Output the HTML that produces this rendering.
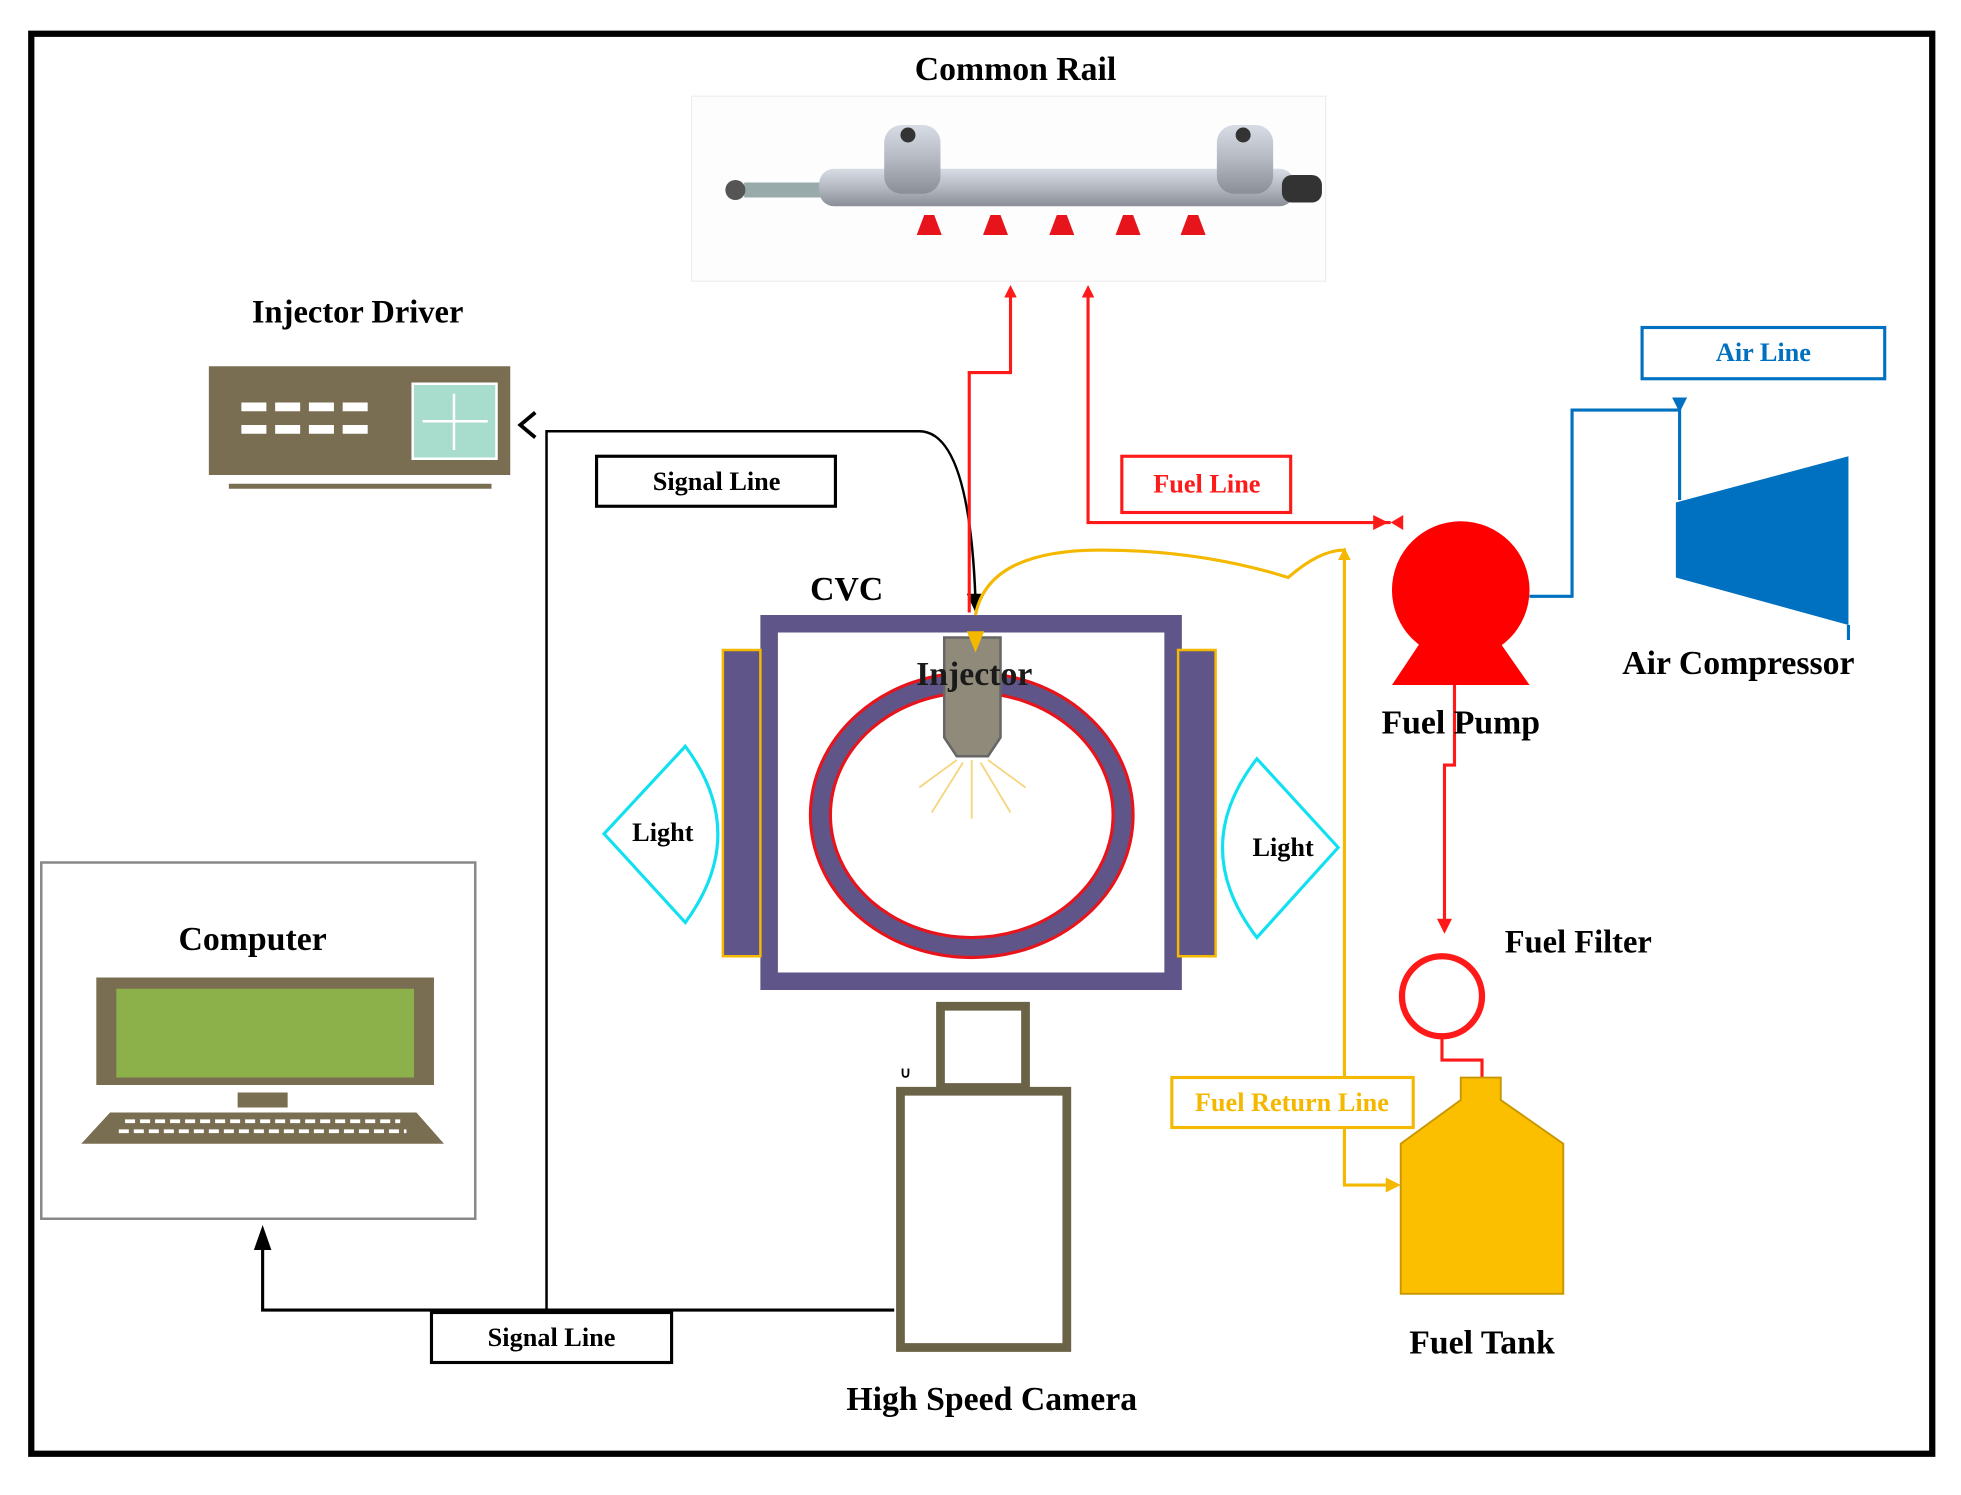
<!DOCTYPE html>
<html><head><meta charset="utf-8"><style>
html,body{margin:0;padding:0;background:#fff;}
svg{display:block;}
text{font-family:"Liberation Serif",serif;font-weight:bold;}
</style></head><body>
<svg width="1961" height="1495" viewBox="0 0 1568 1196" preserveAspectRatio="none" xmlns="http://www.w3.org/2000/svg">
<defs>
<linearGradient id="rail" x1="0" y1="0" x2="0" y2="1">
<stop offset="0" stop-color="#d8dce4"/><stop offset="0.5" stop-color="#b4b8c0"/><stop offset="1" stop-color="#8a8e96"/>
</linearGradient>
</defs>
<rect x="25" y="27" width="1520" height="1136" fill="#fff" stroke="#000" stroke-width="5"/>

<!-- Common Rail -->
<text x="812" y="64" font-size="27" text-anchor="middle">Common Rail</text>
<rect x="553" y="77" width="507" height="148" fill="#fdfdfd" stroke="#eee"/>
<rect x="595" y="146" width="70" height="12" fill="#9aa" />
<circle cx="588" cy="152" r="8" fill="#555"/>
<rect x="655" y="135" width="380" height="30" rx="12" fill="url(#rail)"/>
<rect x="707" y="100" width="45" height="55" rx="14" fill="url(#rail)"/>
<circle cx="726" cy="108" r="6" fill="#333"/>
<rect x="973" y="100" width="45" height="55" rx="14" fill="url(#rail)"/>
<circle cx="994" cy="108" r="6" fill="#333"/>
<rect x="1025" y="140" width="32" height="22" rx="8" fill="#333"/>
<g fill="#e8141c">
<path d="M733 188 L739 172 L747 172 L753 188Z"/><path d="M786 188 L792 172 L800 172 L806 188Z"/>
<path d="M839 188 L845 172 L853 172 L859 188Z"/><path d="M892 188 L898 172 L906 172 L912 188Z"/>
<path d="M944 188 L950 172 L958 172 L964 188Z"/>
</g>

<!-- Injector Driver -->
<text x="286" y="258" font-size="26" text-anchor="middle">Injector Driver</text>
<rect x="167" y="293" width="241" height="87" fill="#7a6e52"/>
<g fill="#fff">
<rect x="193" y="322" width="20" height="7"/><rect x="220" y="322" width="20" height="7"/><rect x="247" y="322" width="20" height="7"/><rect x="274" y="322" width="20" height="7"/>
<rect x="193" y="340" width="20" height="7"/><rect x="220" y="340" width="20" height="7"/><rect x="247" y="340" width="20" height="7"/><rect x="274" y="340" width="20" height="7"/>
</g>
<rect x="330" y="307" width="67" height="60" fill="#a8dccc" stroke="#fff" stroke-width="2"/>
<path d="M363 315 V360 M338 337 H390" stroke="#fff" stroke-width="2"/>
<rect x="183" y="387" width="210" height="4" fill="#7a6e52"/>

<!-- signal lines black -->
<rect x="477" y="365" width="191" height="40" fill="#fff" stroke="#000" stroke-width="2.5"/>
<text x="573" y="392" font-size="21" text-anchor="middle">Signal Line</text>
<path d="M437 1048 V345 H735 Q775 345 780 480" fill="none" stroke="#000" stroke-width="2"/>
<path d="M773 475 L780 490 L787 475Z" fill="#000"/>
<path d="M428 330 L416 340 L428 350" fill="none" stroke="#000" stroke-width="3"/>
<path d="M715 1048 H210 V990" fill="none" stroke="#000" stroke-width="2.5"/>
<path d="M203 1000 L210 980 L217 1000Z" fill="#000"/>
<rect x="345" y="1050" width="192" height="40" fill="#fff" stroke="#000" stroke-width="2.5"/>
<text x="441" y="1077" font-size="21" text-anchor="middle">Signal Line</text>

<!-- Computer -->
<rect x="33" y="690" width="347" height="285" fill="#fff" stroke="#888" stroke-width="2"/>
<text x="202" y="760" font-size="27" text-anchor="middle">Computer</text>
<rect x="77" y="782" width="270" height="86" fill="#7a6e52"/>
<rect x="93" y="791" width="238" height="71" fill="#8cb04a"/>
<rect x="190" y="874" width="40" height="12" fill="#7a6e52"/>
<path d="M88 890 H333 L355 915 H65Z" fill="#7a6e52"/>
<g stroke="#fff" stroke-width="3" stroke-dasharray="8 4"><path d="M100 897 H320"/><path d="M95 905 H325"/></g>

<!-- CVC -->
<text x="677" y="480" font-size="27" text-anchor="middle">CVC</text>
<rect x="615" y="499" width="323" height="286" fill="#fff" stroke="#5f5588" stroke-width="14"/>
<rect x="578" y="520" width="30" height="245" fill="#5f5588" stroke="#f5b800" stroke-width="2"/>
<rect x="942" y="520" width="30" height="245" fill="#5f5588" stroke="#f5b800" stroke-width="2"/>
<ellipse cx="777" cy="652" rx="121" ry="106" fill="none" stroke="#5f5588" stroke-width="15"/>
<ellipse cx="777" cy="652" rx="129" ry="114" fill="none" stroke="#e8141c" stroke-width="2.5"/>
<ellipse cx="777" cy="652" rx="113" ry="98" fill="none" stroke="#e8141c" stroke-width="2.5"/>
<path d="M755 510 H800 V590 L790 605 H765 L755 590Z" fill="#8f8a7a" stroke="#666" stroke-width="2"/>
<g stroke="#f5d680" stroke-width="1.5"><path d="M777 608 V655 M770 610 L745 650 M784 610 L808 650 M765 608 L735 630 M790 608 L820 630"/></g>
<text x="779" y="548" font-size="27" text-anchor="middle" fill="#1a1a1a">Injector</text>

<!-- lights -->
<path d="M548 597 L483 667 L548 738 Q600 667 548 597Z" fill="#fff" stroke="#10e0f0" stroke-width="2.5"/>
<text x="530" y="673" font-size="21" text-anchor="middle">Light</text>
<path d="M1005 607 L1070 678 L1005 750 Q950 678 1005 607Z" fill="#fff" stroke="#10e0f0" stroke-width="2.5"/>
<text x="1026" y="685" font-size="21" text-anchor="middle">Light</text>

<!-- camera -->
<rect x="752" y="805" width="68" height="65" fill="#fff" stroke="#6b6347" stroke-width="7"/>
<rect x="720" y="873" width="133" height="205" fill="#fff" stroke="#6b6347" stroke-width="7"/>
<text x="724" y="862" font-size="12" text-anchor="middle" font-weight="normal">∪</text>
<text x="793" y="1128" font-size="27" text-anchor="middle">High Speed Camera</text>

<!-- red fuel lines -->
<g fill="none" stroke="#ff1a1a" stroke-width="2.5">
<path d="M775 490 V298 H808 V235"/>
<path d="M870 235 V418 H1112"/>
<path d="M1163 548 V612 H1155 V745"/>
<path d="M1153 830 V848 H1185 V862"/>
</g>
<g fill="#ff1a1a">
<path d="M803 238 L808 228 L813 238Z"/><path d="M865 238 L870 228 L875 238Z"/>
<path d="M1098 412 L1110 418 L1098 424Z"/><path d="M1122 412 L1112 418 L1122 424Z"/>
<path d="M1149 735 L1155 747 L1161 735Z"/>
</g>
<rect x="897" y="365" width="135" height="45" fill="#fff" stroke="#ff1a1a" stroke-width="2.5"/>
<text x="965" y="394" font-size="21" text-anchor="middle" fill="#ff1a1a">Fuel Line</text>
<!-- pump -->
<circle cx="1168" cy="472" r="55" fill="#ff0000"/>
<path d="M1135 515 H1200 L1223 548 H1113Z" fill="#ff0000"/>
<text x="1168" y="587" font-size="27" text-anchor="middle">Fuel Pump</text>
<!-- filter -->
<circle cx="1153" cy="797" r="32" fill="#fff" stroke="#ff1a1a" stroke-width="5"/>
<text x="1262" y="762" font-size="26" text-anchor="middle">Fuel Filter</text>

<!-- yellow return line -->
<g fill="none" stroke="#f5b800" stroke-width="2.5">
<path d="M780 492 Q790 440 880 440 Q960 440 1030 462 Q1055 440 1075 440 V948 H1112"/>
</g>
<path d="M773 505 L780 522 L787 505Z" fill="#f5b800"/>
<path d="M1070 448 L1075 438 L1080 448Z" fill="#f5b800"/>
<path d="M1108 942 L1120 948 L1108 954Z" fill="#f5b800"/>
<rect x="937" y="862" width="193" height="40" fill="#fff" stroke="#f5b800" stroke-width="2.5"/>
<text x="1033" y="889" font-size="21" text-anchor="middle" fill="#f5b800">Fuel Return Line</text>
<!-- tank -->
<path d="M1168 862 H1200 V880 L1250 915 V1035 H1120 V915 L1168 880Z" fill="#fbbf00" stroke="#c89600" stroke-width="1.5"/>
<text x="1185" y="1083" font-size="27" text-anchor="middle">Fuel Tank</text>

<!-- air -->
<g fill="none" stroke="#0070c0" stroke-width="2.5">
<path d="M1223 477 H1257 V328 H1343 V400"/>
<path d="M1478 500 V512"/>
</g>
<path d="M1337 318 L1343 330 L1349 318Z" fill="#0070c0"/>
<path d="M1340 402 L1478 365 V500 L1340 462Z" fill="#0070c0"/>
<rect x="1313" y="262" width="194" height="41" fill="#fff" stroke="#0070c0" stroke-width="2.5"/>
<text x="1410" y="289" font-size="21" text-anchor="middle" fill="#0070c0">Air Line</text>
<text x="1390" y="539" font-size="27" text-anchor="middle">Air Compressor</text>
</svg>
</body></html>
